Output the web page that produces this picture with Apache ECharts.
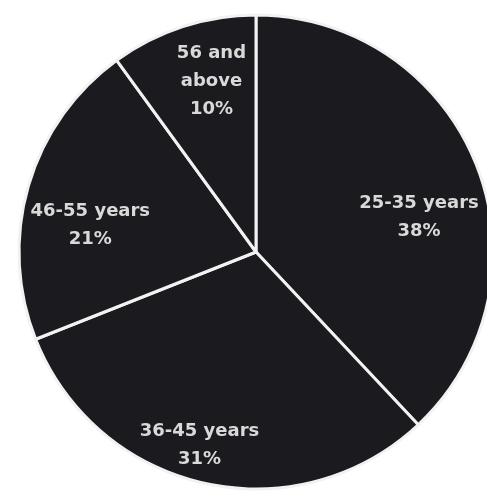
<!DOCTYPE html>
<html>
<head>
<meta charset="utf-8">
<script src="https://cdn.jsdelivr.net/npm/echarts@6/dist/echarts.min.js"></script>
<style>
  html, body { margin: 0; padding: 0; background: #ffffff; }
  #chart { width: 487px; height: 499px; }
</style>
</head>
<body>
<div id="chart"></div>
<script>
// Age groups and their share of respondents (percent)
const ageGroups = ['25-35 years', '36-45 years', '46-55 years', '56 and\nabove'];
const shares = [38, 31, 21, 10];

// Nudges that move each inside label away from the default mid-radius spot
const labelOffsets = [[50, 10], [-30, 75], [-49, 7], [-7, -55]];

const chart = echarts.init(document.getElementById('chart'), null, { renderer: 'canvas' });

chart.setOption({
  backgroundColor: '#ffffff',
  animation: false,
  series: [{
    type: 'pie',
    center: [256, 252],
    radius: 237,
    startAngle: 90,
    clockwise: true,
    avoidLabelOverlap: false,
    itemStyle: {
      color: '#1b1a1e',
      borderColor: '#f2f2f2',
      borderWidth: 3
    },
    label: {
      show: true,
      position: 'inside',
      color: '#d9d9d9',
      fontFamily: 'DejaVu Sans',
      fontWeight: 'bold',
      fontSize: 18,
      lineHeight: 28,
      align: 'center',
      formatter: p => p.name + '\n' + p.value + '%'
    },
    labelLine: { show: false },
    emphasis: { disabled: true },
    data: ageGroups.map((name, i) => ({
      name: name,
      value: shares[i],
      label: { offset: labelOffsets[i] }
    }))
  }]
});
</script>
</body>
</html>
